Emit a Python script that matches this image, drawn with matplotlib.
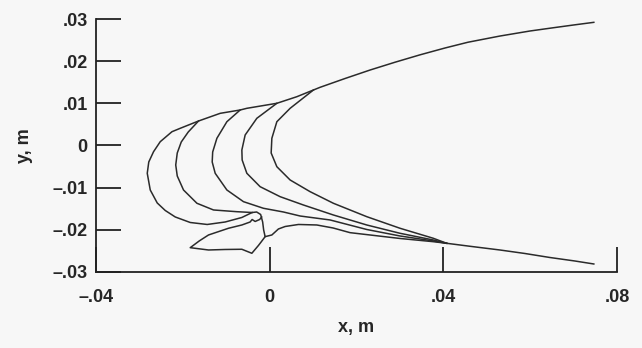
import matplotlib
matplotlib.use("Agg")
import matplotlib.pyplot as plt

# ---- data (metres) ----
# shared upper envelope (right end -> nose of outermost front)
upper_x = [0.07467, 0.07030, 0.06523, 0.05994, 0.05304, 0.04568, 0.04038, 0.03463, 0.02888,
           0.02313, 0.01737, 0.01162, 0.01008, 0.00626, 0.00166, -0.00525, -0.00679,
           -0.01139, -0.01638, -0.02059, -0.02250]
upper_y = [0.02921, 0.02862, 0.02791, 0.02715, 0.02596, 0.02449, 0.02312, 0.02150, 0.01975,
           0.01790, 0.01589, 0.01380, 0.01316, 0.01157, 0.01001, 0.00882, 0.00842,
           0.00763, 0.00581, 0.00408, 0.00327]

# outermost front: nose, bottom, hook and lower line up to merge point
front1_x = [-0.02250, -0.02520, -0.02674, -0.02784, -0.02819, -0.02750, -0.02589, -0.02405,
            -0.02174, -0.01829, -0.01438, -0.01024, -0.00640, -0.00403, -0.00299, -0.00207,
            -0.00161, -0.00138, -0.00104, 0.00051, 0.00202, 0.00357, 0.00663, 0.01086,
            0.01461, 0.01852, 0.03003, 0.03769, 0.04077]
front1_y = [0.00327, 0.00090, -0.00147, -0.00391, -0.00659, -0.01055, -0.01363, -0.01541,
            -0.01695, -0.01826, -0.01873, -0.01814, -0.01707, -0.01589, -0.01577, -0.01636,
            -0.01814, -0.02003, -0.02162, -0.02122, -0.01980, -0.01921, -0.01873, -0.01885,
            -0.01956, -0.02067, -0.02205, -0.02281, -0.02319]

# shared lower envelope (merge point -> right end)
lower_x = [0.04077, 0.04614, 0.05304, 0.05879, 0.06454, 0.07030, 0.07467]
lower_y = [-0.02319, -0.02390, -0.02478, -0.02561, -0.02656, -0.02739, -0.02810]

front2_x = [-0.01638, -0.01875, -0.02036, -0.02128, -0.02163, -0.02128, -0.01984, -0.01675,
            -0.01293, -0.00755, -0.00403]
front2_y = [0.00581, 0.00320, 0.00083, -0.00178, -0.00462, -0.00723, -0.01055, -0.01370,
            -0.01529, -0.01570, -0.01589]

front3_x = [-0.00679, -0.00985, -0.01215, -0.01312, -0.01323, -0.01254, -0.00985, -0.00603,
            -0.00143, 0.00318, 0.00702, 0.01392, 0.02237, 0.03003, 0.03769, 0.04077]
front3_y = [0.00842, 0.00564, 0.00171, -0.00154, -0.00391, -0.00659, -0.01055, -0.01332,
            -0.01489, -0.01577, -0.01672, -0.01766, -0.01992, -0.02146, -0.02264, -0.02319]

front4_x = [0.00166, -0.00295, -0.00564, -0.00640, -0.00633, -0.00525, -0.00219, 0.00242,
            0.00778, 0.01468, 0.02237, 0.03003, 0.03769, 0.04077]
front4_y = [0.01001, 0.00645, 0.00249, -0.00107, -0.00344, -0.00659, -0.00977, -0.01214,
            -0.01411, -0.01648, -0.01885, -0.02082, -0.02241, -0.02319]

front5_x = [0.01008, 0.00472, 0.00166, 0.00051, 0.00035, 0.00166, 0.00472, 0.00932,
            0.01468, 0.02237, 0.03003, 0.03769, 0.04077]
front5_y = [0.01316, 0.00882, 0.00564, 0.00171, -0.00178, -0.00503, -0.00818, -0.01095,
            -0.01370, -0.01688, -0.01963, -0.02200, -0.02319]

# detached lobe below the hook
lobe_x = [-0.00104, -0.00196, -0.00258, -0.00410, -0.00640, -0.01024, -0.01408, -0.01829,
          -0.01622, -0.01408, -0.00948, -0.00640, -0.00449, -0.00403, -0.00334, -0.00230,
          -0.00184]
lobe_y = [-0.02162, -0.02288, -0.02371, -0.02556, -0.02461, -0.02466, -0.02478, -0.02423,
          -0.02264, -0.02122, -0.01963, -0.01885, -0.01814, -0.01755, -0.01802, -0.01755,
          -0.01695]

xticks = [-0.04, 0.0, 0.04, 0.08]
xtick_labels = ["\u2013.04", "0", ".04", ".08"]
yticks = [-0.03, -0.02, -0.01, 0.0, 0.01, 0.02, 0.03]
ytick_labels = ["\u2013.03", "\u2013.02", "\u2013.01", "0", ".01", ".02", ".03"]

# ---- figure ----
plt.rcParams['font.family'] = ['Liberation Sans', 'DejaVu Sans']
plt.rcParams['font.weight'] = 'bold'
bg = '#f7f7f7'
fig = plt.figure(figsize=(6.42, 3.48), dpi=100, facecolor=bg)
ax = fig.add_axes([0.1495, 0.2184, 0.961 - 0.1495, 0.9454 - 0.2184])
ax.set_facecolor(bg)

lc = '#2b2b2b'
lw = 1.1
ax.plot(upper_x + front1_x + lower_x, upper_y + front1_y + lower_y, color=lc, lw=lw)
for fx, fy in [(front2_x, front2_y), (front3_x, front3_y),
               (front4_x, front4_y), (front5_x, front5_y)]:
    ax.plot(fx, fy, color=lc, lw=lw)
ax.plot(lobe_x, lobe_y, color=lc, lw=lw)

ax.set_xlim(-0.04, 0.08)
ax.set_ylim(-0.03, 0.03)
ax.spines['top'].set_visible(False)
ax.spines['right'].set_visible(False)
for s in ['left', 'bottom']:
    ax.spines[s].set_linewidth(1.3)
    ax.spines[s].set_color('#222222')

ax.set_xticks(xticks)
ax.set_xticklabels(xtick_labels)
ax.set_yticks(yticks)
ax.set_yticklabels(ytick_labels)
ax.tick_params(axis='both', direction='in', length=18, width=1.3, color='#222222',
               labelsize=13, labelcolor='#262626')
ax.tick_params(axis='x', pad=12)
ax.tick_params(axis='y', pad=6)

ax.set_xlabel("x, m", fontsize=13, fontweight='bold', color='#262626')
ax.set_ylabel("y, m", fontsize=13, fontweight='bold', color='#262626')
ax.xaxis.set_label_coords(0.5, -0.185)
ax.yaxis.set_label_coords(-0.121, 0.5)

fig.savefig("out.png", dpi=100, facecolor=bg)
